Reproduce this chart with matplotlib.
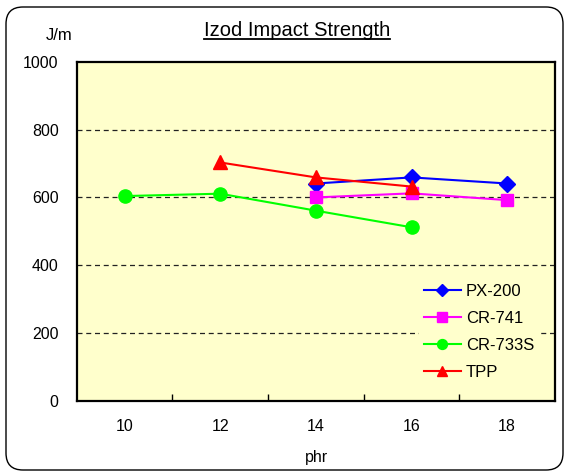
import matplotlib
matplotlib.use("Agg")
import matplotlib.pyplot as plt
from matplotlib.patches import FancyBboxPatch
import numpy as np

plt.rcParams['font.family'] = ['Liberation Sans', 'DejaVu Sans']

categories = ["10", "12", "14", "16", "18"]
px200 = [None, None, 641, 659, 641]
cr741 = [None, None, 600, 612, 592]
cr733s = [604, 611, 561, 512, None]
tpp = [None, 703, 659, 632, None]

series = [
    ("PX-200", px200, "#0000FF", "D", 7.8),
    ("CR-741", cr741, "#FF00FF", "s", 9.0),
    ("CR-733S", cr733s, "#00FF00", "o", 9.5),
    ("TPP", tpp, "#FF0000", "^", 9.5),
]

W, H = 565, 473
fig = plt.figure(figsize=(W / 100, H / 100), dpi=100)

# outer rounded frame
frame = FancyBboxPatch((6 / W, 3 / H), (563 - 6) / W, (466 - 3) / H,
                       boxstyle="round,pad=0,rounding_size=0.03",
                       transform=fig.transFigure, fill=False,
                       edgecolor="black", linewidth=1.0, mutation_aspect=W / H)
fig.patches.append(frame)

left, right, top, bottom = 76.7, 555, 61.7, 401
ax = fig.add_axes([left / W, 1 - bottom / H, (right - left) / W, (bottom - top) / H])
ax.set_facecolor("#FFFFCC")

xpos = np.arange(len(categories))
for name, vals, color, marker, ms in series:
    xs = [x for x, v in zip(xpos, vals) if v is not None]
    ys = [v for v in vals if v is not None]
    ax.plot(xs, ys, color=color, marker=marker, markersize=ms, linewidth=1.5,
            markeredgecolor=color, label=name, clip_on=False)

ax.set_xlim(-0.5, len(categories) - 0.5)
ax.set_ylim(0, 1000)
ax.set_yticks([0, 200, 400, 600, 800, 1000])
ax.set_xticks(xpos)
ax.set_xticklabels(categories)
ax.set_xticks(xpos[:-1] + 0.5, minor=True)
ax.tick_params(axis="x", which="major", length=0, pad=13, labelsize=11.5)
ax.tick_params(axis="x", which="minor", direction="in", length=5, width=1)
ax.tick_params(axis="y", which="major", length=0, pad=13, labelsize=11.5)

for yv in [200, 400, 600, 800]:
    ax.axhline(yv, color="#222222", linewidth=0.9, linestyle=(0, (4, 3)), zorder=0.5)

for sp in ax.spines.values():
    sp.set_linewidth(1.6)
    sp.set_color("black")

def ax_frac(px, py):
    return ((px - left) / (right - left), (bottom - py) / (bottom - top))

leg = ax.legend(loc="upper left", bbox_to_anchor=ax_frac(419, 279),
                borderaxespad=0, frameon=True, fontsize=12, handlelength=2.2,
                handletextpad=0.3, labelspacing=0.72, borderpad=0.3, markerscale=0.75)
leg.get_frame().set_facecolor("#FFFFCC")
leg.get_frame().set_edgecolor("none")
leg.get_frame().set_alpha(1.0)

t = fig.text(297 / W, 1 - 31 / H, "Izod Impact Strength", ha="center", va="center",
             fontsize=14.5)
fig.canvas.draw()
bb = t.get_window_extent()
uy = 1 - 39 / H
fig.add_artist(plt.Line2D([bb.x0 / W, bb.x1 / W], [uy, uy],
                          transform=fig.transFigure, color="black", linewidth=1.3))

fig.text(59 / W, 1 - 35 / H, "J/m", ha="center", va="center", fontsize=12)
fig.text(316 / W, 1 - 457 / H, "phr", ha="center", va="center", fontsize=11.5)

fig.savefig("out.png", dpi=100)
